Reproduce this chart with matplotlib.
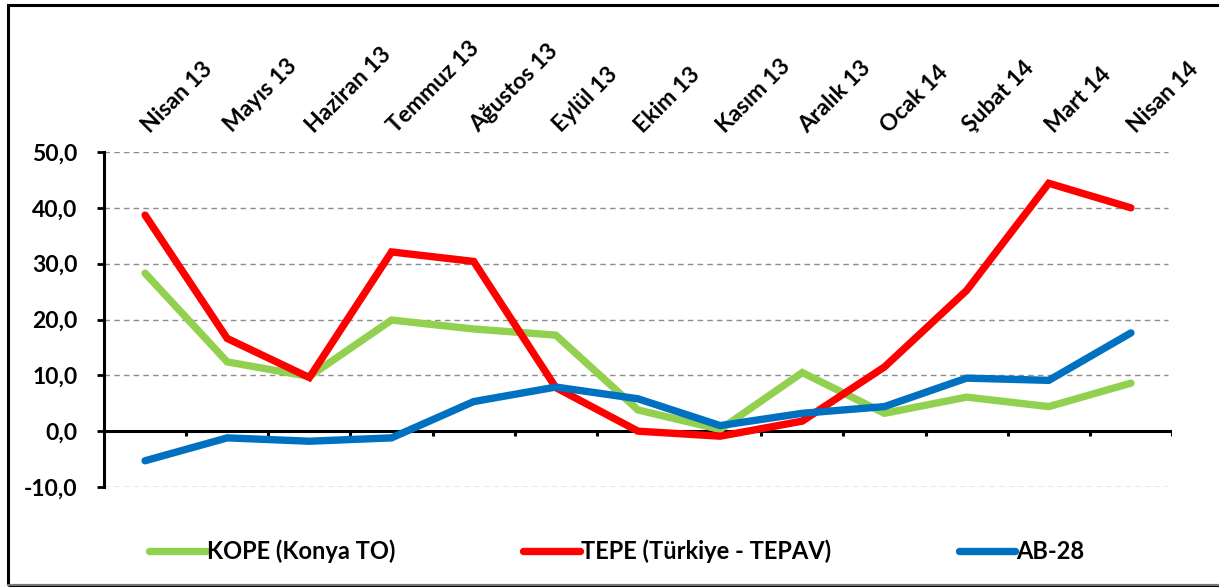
import matplotlib.pyplot as plt
import matplotlib.patches as patches
from matplotlib.transforms import blended_transform_factory

# --- DATA ---
months = ["Nisan 13", "Mayıs 13", "Haziran 13", "Temmuz 13", "Ağustos 13", "Eylül 13",
          "Ekim 13", "Kasım 13", "Aralık 13", "Ocak 14", "Şubat 14", "Mart 14", "Nisan 14"]
kope = [28.3, 12.4, 9.8, 19.9, 18.3, 17.2, 3.8, 0.3, 10.5, 3.2, 6.1, 4.4, 8.6]
tepe = [38.7, 16.6, 9.6, 32.1, 30.4, 7.8, 0.0, -0.9, 1.8, 11.5, 25.2, 44.4, 40.0]
ab28 = [-5.3, -1.2, -1.8, -1.2, 5.3, 7.9, 5.8, 1.0, 3.2, 4.4, 9.5, 9.1, 17.6]
yticks = [-10, 0, 10, 20, 30, 40, 50]

series_names = ["KOPE (Konya TO)", "TEPE (Türkiye - TEPAV)", "AB-28"]
colors = ["#92D050", "#FF0000", "#0070C0"]

plt.rcParams['font.family'] = ['Lato', 'DejaVu Sans']
FS = 16.5

fig = plt.figure(figsize=(12.19, 5.87), dpi=100)
fig.patch.set_facecolor("white")

# outer frame
fig.add_artist(patches.Rectangle((8 / 1219, 2 / 587), 1.2, 580 / 587,
                                 transform=fig.transFigure, fill=False,
                                 ec="black", lw=2.2, clip_on=False))
fig.add_artist(plt.Line2D([8 / 1219, 1], [2 / 587, 2 / 587], transform=fig.transFigure,
                          color="#777777", lw=1.5))

ax = fig.add_axes([104 / 1219, 1 - 487 / 587, 1068 / 1219, 335 / 587])
x = list(range(len(months)))

for vals, name, c in zip([kope, tepe, ab28], series_names, colors):
    ax.plot(x, vals, color=c, lw=5.3, solid_capstyle="round", solid_joinstyle="miter",
            label=name, zorder=5)

ax.set_xlim(-0.5, len(months) - 0.5)
ax.set_ylim(-10, 50)
ax.set_yticks(yticks)
ax.set_yticklabels([f"{v:.1f}".replace(".", ",") for v in yticks],
                   fontsize=FS, fontweight="bold")
ax.tick_params(axis="y", direction="out", length=5, width=2, pad=14)
ax.set_xticks([])

for s in ["top", "right", "bottom"]:
    ax.spines[s].set_visible(False)
ax.spines["left"].set_linewidth(2.2)

for v in yticks:
    if v != 0:
        ax.axhline(v, color="#8c8c8c", lw=1, ls=(0, (4, 3)), xmax=0.996, zorder=1)

# x axis at zero with category-boundary ticks
ax.axhline(0, color="black", lw=2.2, zorder=3)
for b in range(1, len(months) + 1):
    ax.plot([b - 0.5, b - 0.5], [0, -0.9], color="black", lw=2.2, zorder=3,
            solid_capstyle="butt")

# rotated month labels above the plot
tr = blended_transform_factory(ax.transData, ax.transAxes)
for i, m in enumerate(months):
    ax.text(i + 0.06, 1.055, m, transform=tr, rotation=45, rotation_mode="anchor",
            ha="left", va="baseline", fontsize=FS, fontweight="bold")

leg = fig.legend(loc="center", bbox_to_anchor=(617 / 1219, 1 - 551 / 587), ncol=3,
                 frameon=False, handlelength=2.4, handletextpad=0.05,
                 columnspacing=5.4, prop={"weight": "bold", "size": 17})
for h in leg.get_lines():
    h.set_linewidth(5.3)

fig.savefig("out.png", dpi=100, facecolor="white")
